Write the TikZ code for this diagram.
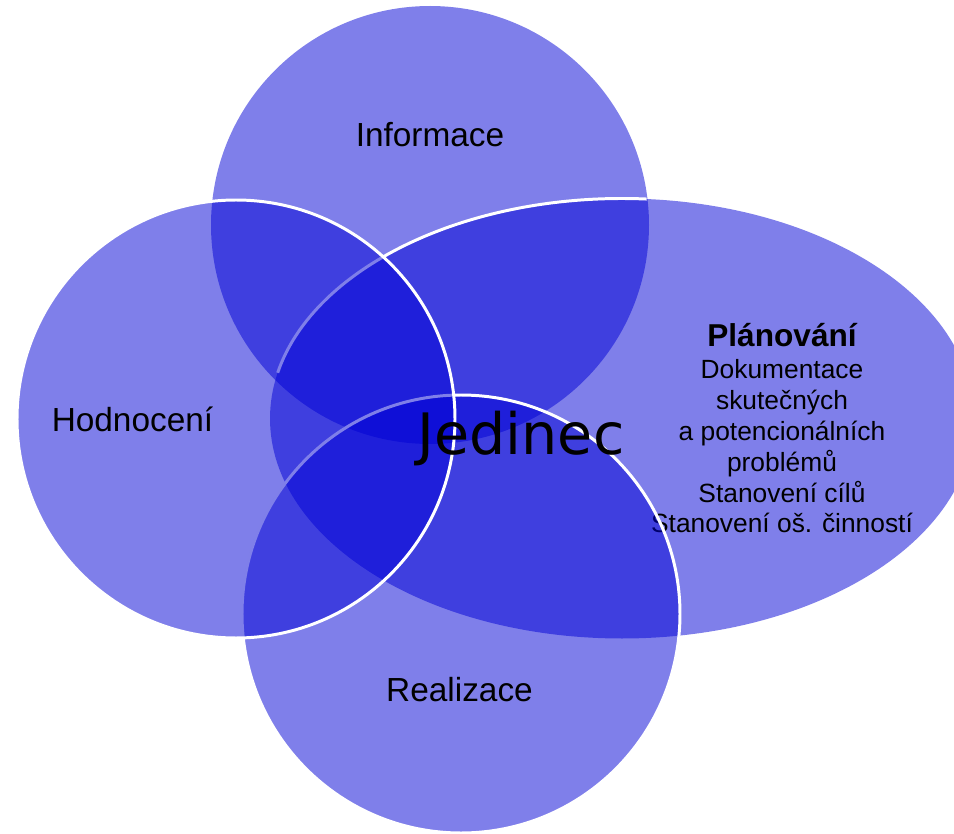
\documentclass[tikz,border=0pt]{standalone}
\usepackage{fontspec}
\setmainfont{Liberation Sans}
\newfontfamily\jedfont{DejaVu Sans}
\usepackage{xcolor}
\definecolor{vennblue}{RGB}{0,0,213}
\tikzset{
    blob/.style = {fill=vennblue, fill opacity=0.5},
    rim/.style = {draw=white, line width=1.7pt},
    tlabel/.style = {inner sep=0pt, anchor=base, text=black, font=\fontsize{19}{23}\selectfont},
    plabel/.style = {inner sep=0pt, anchor=north, align=center, text=black, font=\fontsize{15}{17.6}\selectfont},
    jlabel/.style = {inner sep=0pt, anchor=base, text=black, font=\jedfont\fontsize{32.5}{39}\selectfont}
}

\begin{document}
\begin{tikzpicture}[x=0.02cm, y=0.02cm]
    \useasboundingbox (0,0) rectangle (954,833);
    \clip (0,0) rectangle (954,833);

    \coordinate (info) at (430,608);
    \coordinate (hodn) at (236,414);
    \coordinate (real) at (461,219);
    \coordinate (plan) at (622,414.5);

    \fill[blob] (info) circle[radius=219];
    \fill[blob] (plan) ellipse[x radius=352, y radius=220];
    \draw[rim] (plan) ++(168:352 and 220) arc[start angle=168, end angle=86, x radius=352, y radius=220];
    \node[plabel] (plantext) at (782,510) {{\fontsize{18}{18}\selectfont\bfseries Plánování}\\[0.5pt]
        Dokumentace\\ skutečných\\ a potencionálních\\ problémů\\ Stanovení cílů\\ Stanovení oš. činností};
    \path[blob, rim] (real) circle[radius=219];
    \path[blob, rim] (hodn) circle[radius=219];

    \node[tlabel] (infotext) at (430,686) {Informace};
    \node[tlabel] (hodntext) at (132.5,401) {Hodnocení};
    \node[tlabel] (realtext) at (459.5,132) {Realizace};
    \node[jlabel] (jedinec) at (521,379) {Jedinec};
\end{tikzpicture}
\end{document}
